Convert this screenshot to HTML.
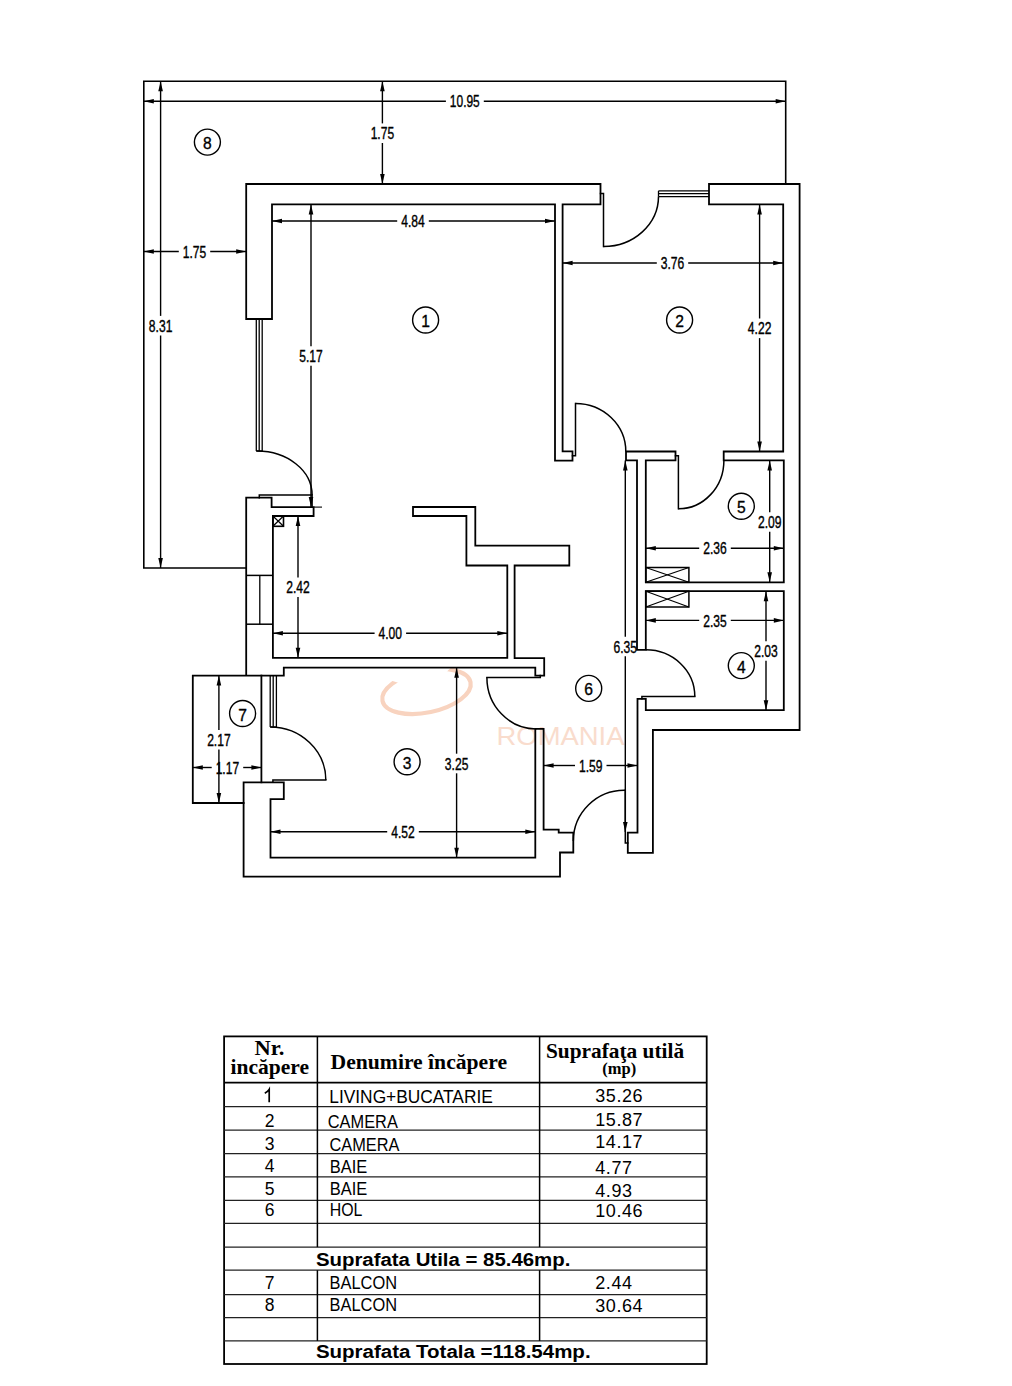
<!DOCTYPE html>
<html><head><meta charset="utf-8"><style>
html,body{margin:0;padding:0;background:#fff;width:1012px;height:1386px;overflow:hidden}
svg{position:absolute;left:0;top:0}
text{font-family:"Liberation Sans",sans-serif;fill:#000}
.sr{font-family:"Liberation Serif",serif;font-weight:bold}
.b{font-weight:bold}
</style></head><body>
<svg width="1012" height="1386" viewBox="0 0 1012 1386">
<g>
<clipPath id="wc"><path d="M426.5,691.5 L338,642 L300,642 L300,780 L560,780 L560,600 L533,624 Z"/></clipPath><ellipse cx="426.5" cy="691.5" rx="45" ry="21" transform="rotate(-12 426.5 691.5)" fill="none" stroke="#f8d3bf" stroke-width="4.2" clip-path="url(#wc)"/>
<text x="496.5" y="745.2" font-size="26" textLength="128" lengthAdjust="spacingAndGlyphs" style="fill:#f9dccd">ROMANIA</text>
</g>
<path d="M246.2,568.0 L143.8,568.0 L143.8,81.3 L785.7,81.3 L785.7,184.0" fill="none" stroke="#000" stroke-width="1.6" stroke-linejoin="miter" stroke-linecap="square"/>
<path d="M246.2,319.0 L246.2,184.0 L600.5,184.0 L600.5,204.4 L562.6,204.4 L562.6,451.4 L572.5,451.4 L572.5,460.7 L555.0,460.7 L555.0,204.4 L272.0,204.4 L272.0,319.0 Z" fill="none" stroke="#000" stroke-width="1.8" stroke-linejoin="miter" stroke-linecap="square"/>
<line x1="256.3" y1="319.0" x2="256.3" y2="451.0" stroke="#000" stroke-width="1.3"/>
<line x1="259.2" y1="319.0" x2="259.2" y2="451.0" stroke="#000" stroke-width="1.3"/>
<line x1="262.2" y1="319.0" x2="262.2" y2="451.0" stroke="#000" stroke-width="1.3"/>
<line x1="256.3" y1="451.0" x2="262.2" y2="451.0" stroke="#000" stroke-width="1.3"/>
<path d="M259.3,497.7 L259.3,494.9 L312.1,494.9 L312.1,507.1" fill="none" stroke="#000" stroke-width="1.5" stroke-linejoin="miter" stroke-linecap="square"/>
<path d="M256.3,451.0 A55.0,44.0 0 0 1 312.1,495.2" fill="none" stroke="#000" stroke-width="1.5"/>
<path d="M246.2,675.6 L246.2,497.7 L271.6,497.7 L271.6,507.1 L313.6,507.1 L313.6,516.0 L272.9,516.0 L272.9,657.8 L507.3,657.8 L507.3,565.5 L466.4,565.5 L466.4,516.0 L413.0,516.0 L413.0,507.0 L475.3,507.0 L475.3,545.6 L569.3,545.6 L569.3,565.5 L514.6,565.5 L514.6,658.2 L544.2,658.2 L544.2,675.6 L535.3,675.6 L535.3,667.7 L283.8,667.7 L283.8,675.6 L192.8,675.6 L192.8,803.0 L243.6,803.0" fill="none" stroke="#000" stroke-width="1.8" stroke-linejoin="miter" stroke-linecap="square"/>
<line x1="313.6" y1="507.1" x2="322.0" y2="507.1" stroke="#000" stroke-width="1.1"/>
<rect x="272.9" y="516" width="10.6" height="10.3" fill="none" stroke="#000" stroke-width="1.6"/>
<line x1="272.9" y1="516.0" x2="283.5" y2="526.3" stroke="#000" stroke-width="1.2"/>
<line x1="283.5" y1="516.0" x2="272.9" y2="526.3" stroke="#000" stroke-width="1.2"/>
<line x1="246.2" y1="575.4" x2="272.9" y2="575.4" stroke="#000" stroke-width="1.5"/>
<line x1="246.2" y1="624.2" x2="272.9" y2="624.2" stroke="#000" stroke-width="1.5"/>
<line x1="259.8" y1="575.4" x2="259.8" y2="624.2" stroke="#000" stroke-width="1.3"/>
<path d="M261.4,675.6 L261.4,782.3" fill="none" stroke="#000" stroke-width="1.8" stroke-linejoin="miter" stroke-linecap="square"/>
<path d="M243.6,876.6 L243.6,782.3 L283.8,782.3 L283.8,799.2 L270.5,799.2 L270.5,857.7 L535.3,857.7 L535.3,728.9 L543.6,728.9 L543.6,829.6 L558.7,829.6 L558.7,832.7 L573.3,832.7 L573.3,852.5 L560.0,852.5 L560.0,876.6 L243.6,876.6" fill="none" stroke="#000" stroke-width="1.8" stroke-linejoin="miter" stroke-linecap="square"/>
<line x1="270.2" y1="675.6" x2="270.2" y2="727.0" stroke="#000" stroke-width="1.3"/>
<line x1="273.2" y1="675.6" x2="273.2" y2="727.0" stroke="#000" stroke-width="1.3"/>
<line x1="276.4" y1="675.6" x2="276.4" y2="727.0" stroke="#000" stroke-width="1.3"/>
<line x1="270.2" y1="727.0" x2="276.4" y2="727.0" stroke="#000" stroke-width="1.3"/>
<path d="M272.9,782.3 L272.9,780.0 L325.8,780.0" fill="none" stroke="#000" stroke-width="1.5" stroke-linejoin="miter" stroke-linecap="square"/>
<path d="M270.2,727.0 A55.6,53.0 0 0 1 325.8,780.0" fill="none" stroke="#000" stroke-width="1.5"/>
<path d="M540.3,675.6 L540.3,677.5 L486.9,677.5" fill="none" stroke="#000" stroke-width="1.5" stroke-linejoin="miter" stroke-linecap="square"/>
<path d="M486.9,677.5 A49.4,51.4 0 0 0 536.3,728.9" fill="none" stroke="#000" stroke-width="1.5"/>
<path d="M709.0,184.0 L799.6,184.0 L799.6,730.0 L652.9,730.0 L652.9,852.9 L627.8,852.9 L627.8,832.7 L637.5,832.7 L637.5,698.8 L645.8,698.8 L645.8,710.2 L783.8,710.2 L783.8,591.2 L645.8,591.2 L645.8,649.8 L637.0,649.8 L637.0,460.4 L626.0,460.4 L626.0,451.5 L675.5,451.5 L675.5,460.4 L645.8,460.4 L645.8,582.3 L783.8,582.3 L783.8,460.4 L723.7,460.4 L723.7,451.5 L783.2,451.5 L783.2,204.4 L709.0,204.4 Z" fill="none" stroke="#000" stroke-width="1.8" stroke-linejoin="miter" stroke-linecap="square"/>
<line x1="658.5" y1="190.9" x2="709.0" y2="190.9" stroke="#000" stroke-width="1.3"/>
<line x1="658.5" y1="193.7" x2="709.0" y2="193.7" stroke="#000" stroke-width="1.3"/>
<line x1="658.5" y1="196.6" x2="709.0" y2="196.6" stroke="#000" stroke-width="1.3"/>
<line x1="658.5" y1="190.9" x2="658.5" y2="196.6" stroke="#000" stroke-width="1.3"/>
<path d="M600.5,193.5 L603.5,193.5 L603.5,246.5" fill="none" stroke="#000" stroke-width="1.5" stroke-linejoin="miter" stroke-linecap="square"/>
<path d="M603.5,246.5 A55.0,50.0 0 0 0 658.5,196.6" fill="none" stroke="#000" stroke-width="1.5"/>
<path d="M572.5,455.8 L575.5,455.8 L575.5,403.4" fill="none" stroke="#000" stroke-width="1.5" stroke-linejoin="miter" stroke-linecap="square"/>
<path d="M575.5,403.4 A50.3,48.0 0 0 1 625.8,451.4" fill="none" stroke="#000" stroke-width="1.5"/>
<path d="M675.5,455.8 L678.4,455.8 L678.4,508.8" fill="none" stroke="#000" stroke-width="1.5" stroke-linejoin="miter" stroke-linecap="square"/>
<path d="M678.4,508.8 A45.5,48.4 0 0 0 723.9,460.4" fill="none" stroke="#000" stroke-width="1.5"/>
<path d="M641.9,698.8 L641.9,696.4 L694.8,696.4" fill="none" stroke="#000" stroke-width="1.5" stroke-linejoin="miter" stroke-linecap="square"/>
<path d="M645.8,649.8 A49.0,46.6 0 0 1 694.8,696.4" fill="none" stroke="#000" stroke-width="1.5"/>
<path d="M627.8,843.0 L625.3,843.0 L625.3,790.2" fill="none" stroke="#000" stroke-width="1.5" stroke-linejoin="miter" stroke-linecap="square"/>
<path d="M625.3,790.2 A51.0,51.0 0 0 0 573.3,841.0" fill="none" stroke="#000" stroke-width="1.5"/>
<rect x="645.8" y="567.5" width="43.1" height="14.8" fill="none" stroke="#000" stroke-width="1.5"/>
<line x1="645.8" y1="567.5" x2="688.9" y2="582.3" stroke="#000" stroke-width="1.2"/>
<line x1="688.9" y1="567.5" x2="645.8" y2="582.3" stroke="#000" stroke-width="1.2"/>
<rect x="645.8" y="591.2" width="43.1" height="15.8" fill="none" stroke="#000" stroke-width="1.5"/>
<line x1="645.8" y1="591.2" x2="688.9" y2="607.0" stroke="#000" stroke-width="1.2"/>
<line x1="688.9" y1="591.2" x2="645.8" y2="607.0" stroke="#000" stroke-width="1.2"/>
<line x1="143.8" y1="101.3" x2="445.9" y2="101.3" stroke="#000" stroke-width="1.4"/>
<line x1="483.8" y1="101.3" x2="785.7" y2="101.3" stroke="#000" stroke-width="1.4"/>
<path d="M143.8,101.3 L153.8,99.0 L153.8,103.6 Z" fill="#000"/>
<path d="M785.7,101.3 L775.7,103.6 L775.7,99.0 Z" fill="#000"/>
<text x="464.8" y="107.4" font-size="17" text-anchor="middle" textLength="29.9" lengthAdjust="spacingAndGlyphs" stroke="#000" stroke-width="0.4">10.95</text>
<line x1="382.4" y1="81.3" x2="382.4" y2="123.4" stroke="#000" stroke-width="1.4"/>
<line x1="382.4" y1="143.0" x2="382.4" y2="184.0" stroke="#000" stroke-width="1.4"/>
<path d="M382.4,81.3 L384.7,91.3 L380.1,91.3 Z" fill="#000"/>
<path d="M382.4,184.0 L380.1,174.0 L384.7,174.0 Z" fill="#000"/>
<text x="382.4" y="139.3" font-size="17" text-anchor="middle" textLength="23.5" lengthAdjust="spacingAndGlyphs" stroke="#000" stroke-width="0.4">1.75</text>
<line x1="272.0" y1="221.0" x2="397.2" y2="221.0" stroke="#000" stroke-width="1.4"/>
<line x1="428.8" y1="221.0" x2="555.0" y2="221.0" stroke="#000" stroke-width="1.4"/>
<path d="M272.0,221.0 L282.0,218.7 L282.0,223.3 Z" fill="#000"/>
<path d="M555.0,221.0 L545.0,223.3 L545.0,218.7 Z" fill="#000"/>
<text x="413.0" y="227.1" font-size="17" text-anchor="middle" textLength="23.5" lengthAdjust="spacingAndGlyphs" stroke="#000" stroke-width="0.4">4.84</text>
<line x1="143.8" y1="251.5" x2="178.8" y2="251.5" stroke="#000" stroke-width="1.4"/>
<line x1="210.2" y1="251.5" x2="246.2" y2="251.5" stroke="#000" stroke-width="1.4"/>
<path d="M143.8,251.5 L153.8,249.2 L153.8,253.8 Z" fill="#000"/>
<path d="M246.2,251.5 L236.2,253.8 L236.2,249.2 Z" fill="#000"/>
<text x="194.5" y="257.6" font-size="17" text-anchor="middle" textLength="23.5" lengthAdjust="spacingAndGlyphs" stroke="#000" stroke-width="0.4">1.75</text>
<line x1="160.6" y1="81.3" x2="160.6" y2="315.9" stroke="#000" stroke-width="1.4"/>
<line x1="160.6" y1="335.5" x2="160.6" y2="568.0" stroke="#000" stroke-width="1.4"/>
<path d="M160.6,81.3 L162.9,91.3 L158.3,91.3 Z" fill="#000"/>
<path d="M160.6,568.0 L158.3,558.0 L162.9,558.0 Z" fill="#000"/>
<text x="160.6" y="331.8" font-size="17" text-anchor="middle" textLength="23.5" lengthAdjust="spacingAndGlyphs" stroke="#000" stroke-width="0.4">8.31</text>
<line x1="311.0" y1="204.4" x2="311.0" y2="346.2" stroke="#000" stroke-width="1.4"/>
<line x1="311.0" y1="365.8" x2="311.0" y2="507.1" stroke="#000" stroke-width="1.4"/>
<path d="M311.0,204.4 L313.3,214.4 L308.7,214.4 Z" fill="#000"/>
<path d="M311.0,507.1 L308.7,497.1 L313.3,497.1 Z" fill="#000"/>
<text x="311.0" y="362.1" font-size="17" text-anchor="middle" textLength="23.5" lengthAdjust="spacingAndGlyphs" stroke="#000" stroke-width="0.4">5.17</text>
<line x1="562.6" y1="263.0" x2="656.8" y2="263.0" stroke="#000" stroke-width="1.4"/>
<line x1="688.2" y1="263.0" x2="783.2" y2="263.0" stroke="#000" stroke-width="1.4"/>
<path d="M562.6,263.0 L572.6,260.7 L572.6,265.3 Z" fill="#000"/>
<path d="M783.2,263.0 L773.2,265.3 L773.2,260.7 Z" fill="#000"/>
<text x="672.5" y="269.1" font-size="17" text-anchor="middle" textLength="23.5" lengthAdjust="spacingAndGlyphs" stroke="#000" stroke-width="0.4">3.76</text>
<line x1="759.6" y1="204.4" x2="759.6" y2="318.5" stroke="#000" stroke-width="1.4"/>
<line x1="759.6" y1="338.1" x2="759.6" y2="451.4" stroke="#000" stroke-width="1.4"/>
<path d="M759.6,204.4 L761.9,214.4 L757.3,214.4 Z" fill="#000"/>
<path d="M759.6,451.4 L757.3,441.4 L761.9,441.4 Z" fill="#000"/>
<text x="759.6" y="334.4" font-size="17" text-anchor="middle" textLength="23.5" lengthAdjust="spacingAndGlyphs" stroke="#000" stroke-width="0.4">4.22</text>
<line x1="298.0" y1="516.0" x2="298.0" y2="577.4" stroke="#000" stroke-width="1.4"/>
<line x1="298.0" y1="597.0" x2="298.0" y2="657.8" stroke="#000" stroke-width="1.4"/>
<path d="M298.0,516.0 L300.3,526.0 L295.7,526.0 Z" fill="#000"/>
<path d="M298.0,657.8 L295.7,647.8 L300.3,647.8 Z" fill="#000"/>
<text x="298.0" y="593.3" font-size="17" text-anchor="middle" textLength="23.5" lengthAdjust="spacingAndGlyphs" stroke="#000" stroke-width="0.4">2.42</text>
<line x1="272.9" y1="633.3" x2="374.6" y2="633.3" stroke="#000" stroke-width="1.4"/>
<line x1="406.1" y1="633.3" x2="507.3" y2="633.3" stroke="#000" stroke-width="1.4"/>
<path d="M272.9,633.3 L282.9,631.0 L282.9,635.6 Z" fill="#000"/>
<path d="M507.3,633.3 L497.3,635.6 L497.3,631.0 Z" fill="#000"/>
<text x="390.3" y="639.4" font-size="17" text-anchor="middle" textLength="23.5" lengthAdjust="spacingAndGlyphs" stroke="#000" stroke-width="0.4">4.00</text>
<line x1="645.8" y1="548.3" x2="699.2" y2="548.3" stroke="#000" stroke-width="1.4"/>
<line x1="730.8" y1="548.3" x2="783.8" y2="548.3" stroke="#000" stroke-width="1.4"/>
<path d="M645.8,548.3 L655.8,546.0 L655.8,550.6 Z" fill="#000"/>
<path d="M783.8,548.3 L773.8,550.6 L773.8,546.0 Z" fill="#000"/>
<text x="715.0" y="554.4" font-size="17" text-anchor="middle" textLength="23.5" lengthAdjust="spacingAndGlyphs" stroke="#000" stroke-width="0.4">2.36</text>
<line x1="769.7" y1="460.4" x2="769.7" y2="512.2" stroke="#000" stroke-width="1.4"/>
<line x1="769.7" y1="531.8" x2="769.7" y2="582.3" stroke="#000" stroke-width="1.4"/>
<path d="M769.7,460.4 L772.0,470.4 L767.4,470.4 Z" fill="#000"/>
<path d="M769.7,582.3 L767.4,572.3 L772.0,572.3 Z" fill="#000"/>
<text x="769.7" y="528.1" font-size="17" text-anchor="middle" textLength="23.5" lengthAdjust="spacingAndGlyphs" stroke="#000" stroke-width="0.4">2.09</text>
<line x1="645.8" y1="620.4" x2="699.2" y2="620.4" stroke="#000" stroke-width="1.4"/>
<line x1="730.8" y1="620.4" x2="783.8" y2="620.4" stroke="#000" stroke-width="1.4"/>
<path d="M645.8,620.4 L655.8,618.1 L655.8,622.7 Z" fill="#000"/>
<path d="M783.8,620.4 L773.8,622.7 L773.8,618.1 Z" fill="#000"/>
<text x="715.0" y="626.5" font-size="17" text-anchor="middle" textLength="23.5" lengthAdjust="spacingAndGlyphs" stroke="#000" stroke-width="0.4">2.35</text>
<line x1="766.0" y1="591.2" x2="766.0" y2="641.2" stroke="#000" stroke-width="1.4"/>
<line x1="766.0" y1="660.8" x2="766.0" y2="710.2" stroke="#000" stroke-width="1.4"/>
<path d="M766.0,591.2 L768.3,601.2 L763.7,601.2 Z" fill="#000"/>
<path d="M766.0,710.2 L763.7,700.2 L768.3,700.2 Z" fill="#000"/>
<text x="766.0" y="657.1" font-size="17" text-anchor="middle" textLength="23.5" lengthAdjust="spacingAndGlyphs" stroke="#000" stroke-width="0.4">2.03</text>
<line x1="625.3" y1="460.4" x2="625.3" y2="636.7" stroke="#000" stroke-width="1.4"/>
<line x1="625.3" y1="656.3" x2="625.3" y2="832.0" stroke="#000" stroke-width="1.4"/>
<path d="M625.3,460.4 L627.6,470.4 L623.0,470.4 Z" fill="#000"/>
<path d="M625.3,832.0 L623.0,822.0 L627.6,822.0 Z" fill="#000"/>
<text x="625.3" y="652.6" font-size="17" text-anchor="middle" textLength="23.5" lengthAdjust="spacingAndGlyphs" stroke="#000" stroke-width="0.4">6.35</text>
<line x1="543.6" y1="765.5" x2="575.0" y2="765.5" stroke="#000" stroke-width="1.4"/>
<line x1="606.5" y1="765.5" x2="637.5" y2="765.5" stroke="#000" stroke-width="1.4"/>
<path d="M543.6,765.5 L553.6,763.2 L553.6,767.8 Z" fill="#000"/>
<path d="M637.5,765.5 L627.5,767.8 L627.5,763.2 Z" fill="#000"/>
<text x="590.7" y="771.6" font-size="17" text-anchor="middle" textLength="23.5" lengthAdjust="spacingAndGlyphs" stroke="#000" stroke-width="0.4">1.59</text>
<line x1="218.9" y1="675.6" x2="218.9" y2="730.0" stroke="#000" stroke-width="1.4"/>
<line x1="218.9" y1="749.6" x2="218.9" y2="803.0" stroke="#000" stroke-width="1.4"/>
<path d="M218.9,675.6 L221.2,685.6 L216.6,685.6 Z" fill="#000"/>
<path d="M218.9,803.0 L216.6,793.0 L221.2,793.0 Z" fill="#000"/>
<text x="218.9" y="745.9" font-size="17" text-anchor="middle" textLength="23.5" lengthAdjust="spacingAndGlyphs" stroke="#000" stroke-width="0.4">2.17</text>
<line x1="192.8" y1="767.5" x2="211.7" y2="767.5" stroke="#000" stroke-width="1.4"/>
<line x1="243.2" y1="767.5" x2="261.4" y2="767.5" stroke="#000" stroke-width="1.4"/>
<path d="M192.8,767.5 L202.8,765.2 L202.8,769.8 Z" fill="#000"/>
<path d="M261.4,767.5 L251.4,769.8 L251.4,765.2 Z" fill="#000"/>
<text x="227.4" y="773.6" font-size="17" text-anchor="middle" textLength="23.5" lengthAdjust="spacingAndGlyphs" stroke="#000" stroke-width="0.4">1.17</text>
<line x1="456.6" y1="667.7" x2="456.6" y2="753.7" stroke="#000" stroke-width="1.4"/>
<line x1="456.6" y1="773.3" x2="456.6" y2="857.7" stroke="#000" stroke-width="1.4"/>
<path d="M456.6,667.7 L458.9,677.7 L454.3,677.7 Z" fill="#000"/>
<path d="M456.6,857.7 L454.3,847.7 L458.9,847.7 Z" fill="#000"/>
<text x="456.6" y="769.6" font-size="17" text-anchor="middle" textLength="23.5" lengthAdjust="spacingAndGlyphs" stroke="#000" stroke-width="0.4">3.25</text>
<line x1="270.5" y1="831.7" x2="387.2" y2="831.7" stroke="#000" stroke-width="1.4"/>
<line x1="418.8" y1="831.7" x2="535.3" y2="831.7" stroke="#000" stroke-width="1.4"/>
<path d="M270.5,831.7 L280.5,829.4 L280.5,834.0 Z" fill="#000"/>
<path d="M535.3,831.7 L525.3,834.0 L525.3,829.4 Z" fill="#000"/>
<text x="403.0" y="837.8" font-size="17" text-anchor="middle" textLength="23.5" lengthAdjust="spacingAndGlyphs" stroke="#000" stroke-width="0.4">4.52</text>
<circle cx="207.4" cy="142.1" r="13" fill="none" stroke="#000" stroke-width="1.4"/>
<text transform="translate(207.4,149.1) scale(0.92,1)" font-size="17" text-anchor="middle" stroke="#000" stroke-width="0.35">8</text>
<circle cx="425.6" cy="320.0" r="13" fill="none" stroke="#000" stroke-width="1.4"/>
<text transform="translate(425.6,327.0) scale(0.92,1)" font-size="17" text-anchor="middle" stroke="#000" stroke-width="0.35">1</text>
<circle cx="679.6" cy="320.0" r="13" fill="none" stroke="#000" stroke-width="1.4"/>
<text transform="translate(679.6,327.0) scale(0.92,1)" font-size="17" text-anchor="middle" stroke="#000" stroke-width="0.35">2</text>
<circle cx="741.3" cy="506.2" r="13" fill="none" stroke="#000" stroke-width="1.4"/>
<text transform="translate(741.3,513.2) scale(0.92,1)" font-size="17" text-anchor="middle" stroke="#000" stroke-width="0.35">5</text>
<circle cx="741.3" cy="665.6" r="13" fill="none" stroke="#000" stroke-width="1.4"/>
<text transform="translate(741.3,672.6) scale(0.92,1)" font-size="17" text-anchor="middle" stroke="#000" stroke-width="0.35">4</text>
<circle cx="588.7" cy="688.4" r="13" fill="none" stroke="#000" stroke-width="1.4"/>
<text transform="translate(588.7,695.4) scale(0.92,1)" font-size="17" text-anchor="middle" stroke="#000" stroke-width="0.35">6</text>
<circle cx="242.6" cy="713.5" r="13" fill="none" stroke="#000" stroke-width="1.4"/>
<text transform="translate(242.6,720.5) scale(0.92,1)" font-size="17" text-anchor="middle" stroke="#000" stroke-width="0.35">7</text>
<circle cx="407.1" cy="761.8" r="13" fill="none" stroke="#000" stroke-width="1.4"/>
<text transform="translate(407.1,768.8) scale(0.92,1)" font-size="17" text-anchor="middle" stroke="#000" stroke-width="0.35">3</text>
<rect x="224.1" y="1036.4" width="482.6" height="327.6" fill="none" stroke="#000" stroke-width="1.8"/>
<line x1="224.1" y1="1082.6" x2="706.7" y2="1082.6" stroke="#000" stroke-width="1.8"/>
<line x1="224.1" y1="1106.6" x2="706.7" y2="1106.6" stroke="#222" stroke-width="1.2"/>
<line x1="224.1" y1="1130.1" x2="706.7" y2="1130.1" stroke="#222" stroke-width="1.2"/>
<line x1="224.1" y1="1153.6" x2="706.7" y2="1153.6" stroke="#222" stroke-width="1.2"/>
<line x1="224.1" y1="1176.8" x2="706.7" y2="1176.8" stroke="#222" stroke-width="1.2"/>
<line x1="224.1" y1="1200.3" x2="706.7" y2="1200.3" stroke="#222" stroke-width="1.2"/>
<line x1="224.1" y1="1223.4" x2="706.7" y2="1223.4" stroke="#222" stroke-width="1.2"/>
<line x1="224.1" y1="1247.1" x2="706.7" y2="1247.1" stroke="#222" stroke-width="1.2"/>
<line x1="224.1" y1="1270.2" x2="706.7" y2="1270.2" stroke="#222" stroke-width="1.2"/>
<line x1="224.1" y1="1294.6" x2="706.7" y2="1294.6" stroke="#222" stroke-width="1.2"/>
<line x1="224.1" y1="1317.7" x2="706.7" y2="1317.7" stroke="#222" stroke-width="1.2"/>
<line x1="224.1" y1="1340.9" x2="706.7" y2="1340.9" stroke="#222" stroke-width="1.2"/>
<line x1="317.4" y1="1036.4" x2="317.4" y2="1247.1" stroke="#000" stroke-width="1.5"/>
<line x1="317.4" y1="1270.2" x2="317.4" y2="1340.9" stroke="#000" stroke-width="1.5"/>
<line x1="539.6" y1="1036.4" x2="539.6" y2="1247.1" stroke="#000" stroke-width="1.5"/>
<line x1="539.6" y1="1270.2" x2="539.6" y2="1340.9" stroke="#000" stroke-width="1.5"/>
<path d="M264.8,1093.2 Q268,1091.5 269.2,1089.4 L269.2,1102.2" fill="none" stroke="#000" stroke-width="1.7"/>
<text x="329.3" y="1103.1" font-size="17.5" textLength="163.5" lengthAdjust="spacingAndGlyphs">LIVING+BUCATARIE</text>
<text x="595.2" y="1101.6" font-size="18" letter-spacing="0.6">35.26</text>
<text x="269.6" y="1127.3" font-size="17.5" text-anchor="middle">2</text>
<text x="327.8" y="1127.5" font-size="17.5" textLength="70" lengthAdjust="spacingAndGlyphs">CAMERA</text>
<text x="595.2" y="1125.6" font-size="18" letter-spacing="0.6">15.87</text>
<text x="269.6" y="1150.4" font-size="17.5" text-anchor="middle">3</text>
<text x="329.5" y="1150.6" font-size="17.5" textLength="70" lengthAdjust="spacingAndGlyphs">CAMERA</text>
<text x="595.2" y="1148.3" font-size="18" letter-spacing="0.6">14.17</text>
<text x="269.6" y="1172.3" font-size="17.5" text-anchor="middle">4</text>
<text x="329.8" y="1172.5" font-size="17.5" textLength="37.5" lengthAdjust="spacingAndGlyphs">BAIE</text>
<text x="595.2" y="1173.6" font-size="18" letter-spacing="0.6">4.77</text>
<text x="269.6" y="1195.2" font-size="17.5" text-anchor="middle">5</text>
<text x="329.8" y="1195.4" font-size="17.5" textLength="37.5" lengthAdjust="spacingAndGlyphs">BAIE</text>
<text x="595.2" y="1197.3" font-size="18" letter-spacing="0.6">4.93</text>
<text x="269.6" y="1215.8" font-size="17.5" text-anchor="middle">6</text>
<text x="329.8" y="1216.0" font-size="17.5" textLength="32.6" lengthAdjust="spacingAndGlyphs">HOL</text>
<text x="595.2" y="1217.3" font-size="18" letter-spacing="0.6">10.46</text>
<text x="269.6" y="1289.0" font-size="17.5" text-anchor="middle">7</text>
<text x="329.5" y="1289.2" font-size="17.5" textLength="67.5" lengthAdjust="spacingAndGlyphs">BALCON</text>
<text x="595.2" y="1289.3" font-size="18" letter-spacing="0.6">2.44</text>
<text x="269.6" y="1310.9" font-size="17.5" text-anchor="middle">8</text>
<text x="329.5" y="1311.1" font-size="17.5" textLength="67.5" lengthAdjust="spacingAndGlyphs">BALCON</text>
<text x="595.2" y="1312.0" font-size="18" letter-spacing="0.6">30.64</text>
<text class="b" x="315.9" y="1266.4" font-size="18" textLength="254.5" lengthAdjust="spacingAndGlyphs">Suprafata Utila = 85.46mp.</text>
<text class="b" x="315.9" y="1357.6" font-size="18" textLength="274.7" lengthAdjust="spacingAndGlyphs">Suprafata Totala =118.54mp.</text>
<text class="sr" x="254.6" y="1054.8" font-size="21.5" textLength="29.8" lengthAdjust="spacingAndGlyphs">Nr.</text>
<text class="sr" x="269.7" y="1073.5" font-size="21.5" text-anchor="middle" textLength="78.5" lengthAdjust="spacingAndGlyphs">incăpere</text>
<text class="sr" x="330.6" y="1068.5" font-size="21.5" textLength="176.4" lengthAdjust="spacingAndGlyphs">Denumire încăpere</text>
<text class="sr" x="545.9" y="1058.4" font-size="21.5" textLength="138.2" lengthAdjust="spacingAndGlyphs">Suprafaţa utilă</text>
<text class="sr" x="619.2" y="1074.3" font-size="16.5" text-anchor="middle">(mp)</text>
</svg>
</body></html>
